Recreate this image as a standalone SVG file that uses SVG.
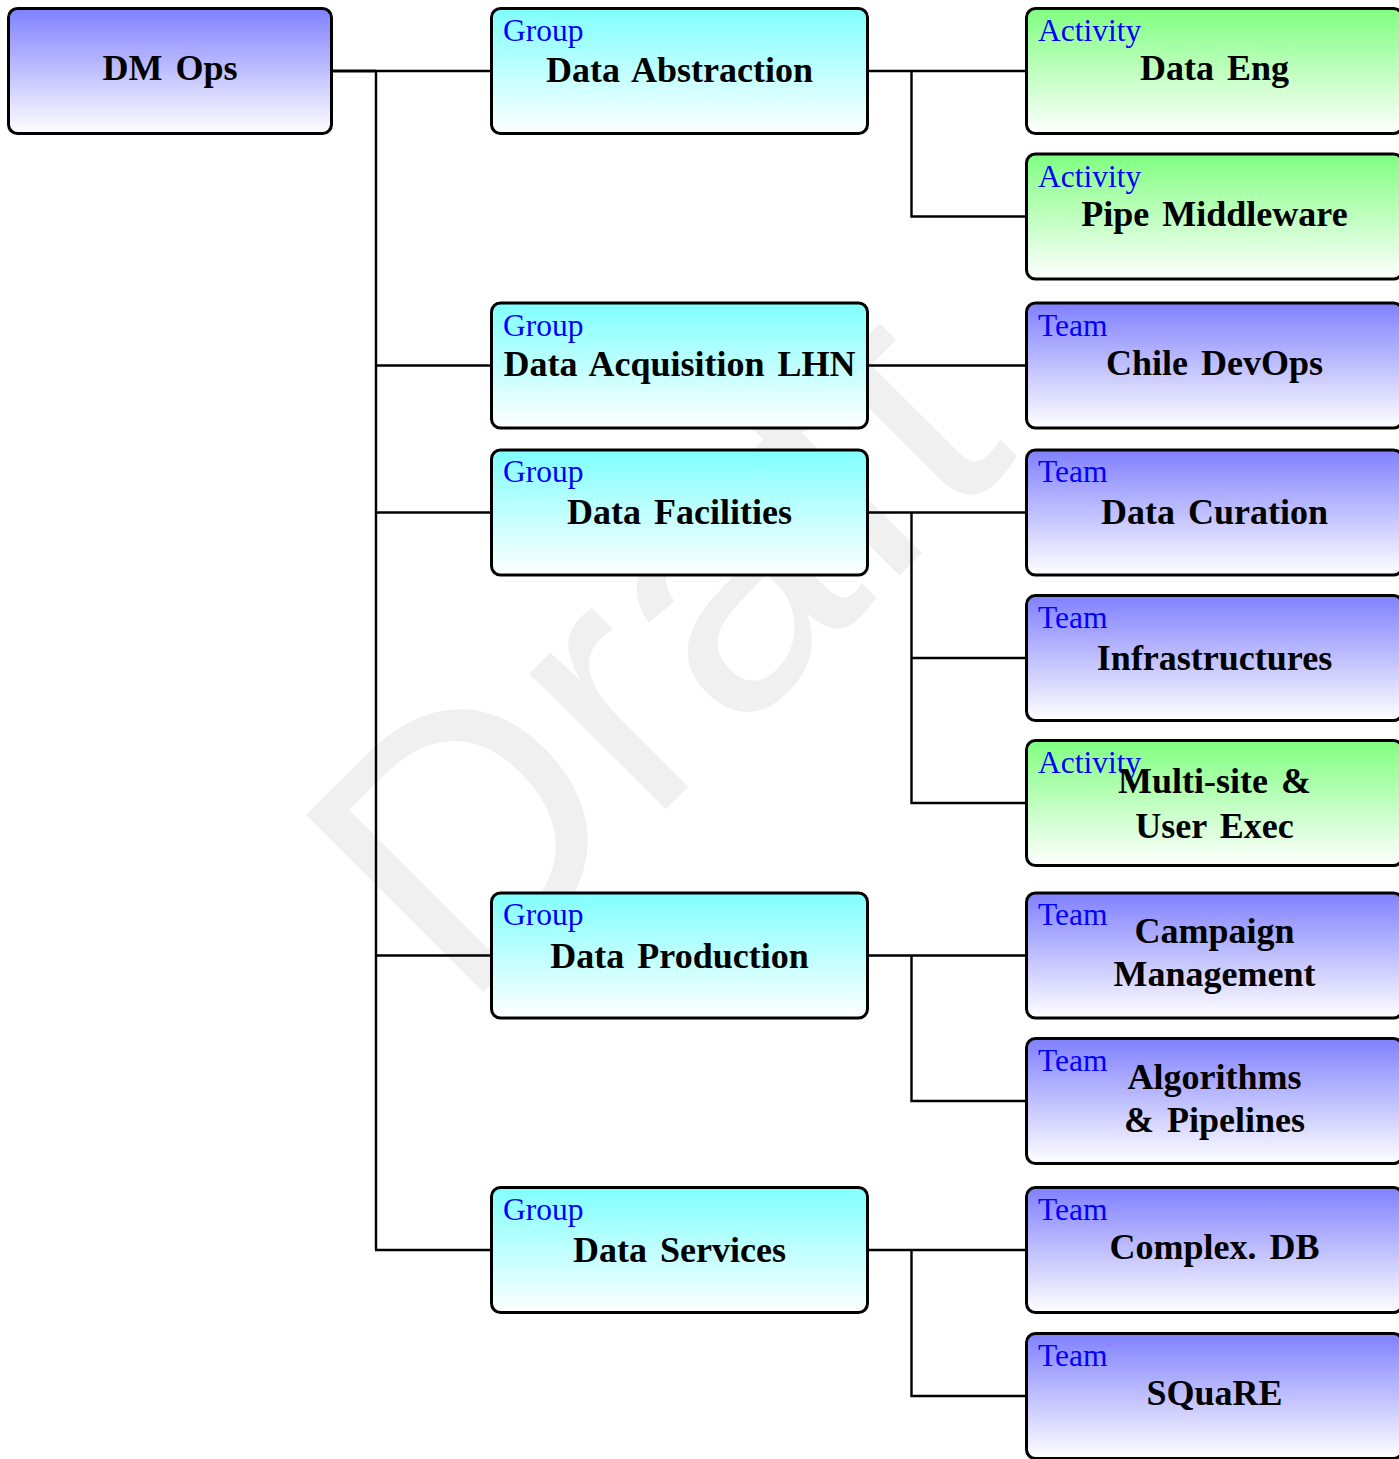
<svg xmlns="http://www.w3.org/2000/svg" width="1399" height="1459" viewBox="0 0 1399 1459">
<defs>
<linearGradient id="gBlue" x1="0" y1="0" x2="0" y2="1"><stop offset="0" stop-color="#8080ff"/><stop offset="1" stop-color="#ffffff"/></linearGradient>
<linearGradient id="gCyan" x1="0" y1="0" x2="0" y2="1"><stop offset="0" stop-color="#80ffff"/><stop offset="1" stop-color="#ffffff"/></linearGradient>
<linearGradient id="gGreen" x1="0" y1="0" x2="0" y2="1"><stop offset="0" stop-color="#80ff80"/><stop offset="1" stop-color="#ffffff"/></linearGradient>
<style>
.box{stroke:#000;stroke-width:3}
.team{fill:url(#gBlue)}
.grp{fill:url(#gCyan)}
.act{fill:url(#gGreen)}
.lbl{font-family:"Liberation Serif","Times New Roman",serif;font-size:31.5px;fill:#0000ff}
.main{font-family:"Liberation Serif","Times New Roman",serif;font-size:36px;font-weight:bold;fill:#000;text-anchor:middle;word-spacing:4px}
.wm{font-family:"Liberation Sans",Arial,sans-serif;font-size:364px;fill:#f0f0f0}
#connectors line, #connectors path{stroke:#000;stroke-width:2.4;fill:none}
</style>
</defs>
<rect width="1399" height="1459" fill="#ffffff"/>
<text class="wm" x="462" y="1013" transform="rotate(-45 462 1013)">Draft</text>
<g id="connectors">
<line x1="333" y1="71" x2="376" y2="71" style="stroke-width:3"/>
<line x1="376" y1="71" x2="490" y2="71"/>
<line x1="376" y1="70" x2="376" y2="1250"/>
<line x1="376" y1="365.5" x2="490" y2="365.5"/>
<line x1="376" y1="512.5" x2="490" y2="512.5"/>
<line x1="376" y1="955.5" x2="490" y2="955.5"/>
<line x1="375" y1="1250" x2="490" y2="1250"/>
<path d="M869 71 H1025 M911.5 71 V216.5 H1025"/>
<path d="M869 365.5 H1025"/>
<path d="M869 512.5 H1025 M911.5 512.5 V803 H1025 M911.5 658 H1025"/>
<path d="M869 955.5 H1025 M911.5 955.5 V1101 H1025"/>
<path d="M869 1250 H1025 M911.5 1250 V1396 H1025"/>
</g>
<g id="dm-ops">
<rect class="box team" x="8.5" y="8.5" width="323" height="125" rx="9"/>
<text class="main" x="170" y="80">DM Ops</text>
</g>
<g id="data-abstraction">
<rect class="box grp" x="491.5" y="8.5" width="376" height="125" rx="9"/>
<text class="lbl" x="503" y="41">Group</text>
<text class="main" x="679.5" y="82">Data Abstraction</text>
</g>
<g id="data-acquisition">
<rect class="box grp" x="491.5" y="303" width="376" height="125" rx="9"/>
<text class="lbl" x="503" y="335.5">Group</text>
<text class="main" x="679.5" y="376">Data Acquisition LHN</text>
</g>
<g id="data-facilities">
<rect class="box grp" x="491.5" y="450" width="376" height="125" rx="9"/>
<text class="lbl" x="503" y="482">Group</text>
<text class="main" x="679.5" y="524">Data Facilities</text>
</g>
<g id="data-production">
<rect class="box grp" x="491.5" y="893" width="376" height="125" rx="9"/>
<text class="lbl" x="503" y="925">Group</text>
<text class="main" x="679.5" y="968">Data Production</text>
</g>
<g id="data-services">
<rect class="box grp" x="491.5" y="1187.5" width="376" height="125" rx="9"/>
<text class="lbl" x="503" y="1219.5">Group</text>
<text class="main" x="679.5" y="1262">Data Services</text>
</g>
<g id="data-eng">
<rect class="box act" x="1026.5" y="8.5" width="376" height="125" rx="9"/>
<text class="lbl" x="1038" y="41">Activity</text>
<text class="main" x="1214.5" y="80">Data Eng</text>
</g>
<g id="pipe-middleware">
<rect class="box act" x="1026.5" y="154" width="376" height="125" rx="9"/>
<text class="lbl" x="1038" y="186.5">Activity</text>
<text class="main" x="1214.5" y="226">Pipe Middleware</text>
</g>
<g id="chile-devops">
<rect class="box team" x="1026.5" y="303" width="376" height="125" rx="9"/>
<text class="lbl" x="1038" y="335.5">Team</text>
<text class="main" x="1214.5" y="375">Chile DevOps</text>
</g>
<g id="data-curation">
<rect class="box team" x="1026.5" y="450" width="376" height="125" rx="9"/>
<text class="lbl" x="1038" y="482">Team</text>
<text class="main" x="1214.5" y="524">Data Curation</text>
</g>
<g id="infrastructures">
<rect class="box team" x="1026.5" y="595.5" width="376" height="125" rx="9"/>
<text class="lbl" x="1038" y="628">Team</text>
<text class="main" x="1214.5" y="670">Infrastructures</text>
</g>
<g id="multi-site">
<rect class="box act" x="1026.5" y="740.5" width="376" height="125" rx="9"/>
<text class="lbl" x="1038" y="773">Activity</text>
<text class="main" x="1214.5" y="793">Multi-site &amp;</text>
<text class="main" x="1214.5" y="838">User Exec</text>
</g>
<g id="campaign-management">
<rect class="box team" x="1026.5" y="893" width="376" height="125" rx="9"/>
<text class="lbl" x="1038" y="925">Team</text>
<text class="main" x="1214.5" y="943">Campaign</text>
<text class="main" x="1214.5" y="986">Management</text>
</g>
<g id="algorithms-pipelines">
<rect class="box team" x="1026.5" y="1038.5" width="376" height="125" rx="9"/>
<text class="lbl" x="1038" y="1071">Team</text>
<text class="main" x="1214.5" y="1089">Algorithms</text>
<text class="main" x="1214.5" y="1132">&amp; Pipelines</text>
</g>
<g id="complex-db">
<rect class="box team" x="1026.5" y="1187.5" width="376" height="125" rx="9"/>
<text class="lbl" x="1038" y="1219.5">Team</text>
<text class="main" x="1214.5" y="1259">Complex. DB</text>
</g>
<g id="square">
<rect class="box team" x="1026.5" y="1333.5" width="376" height="125" rx="9"/>
<text class="lbl" x="1038" y="1366">Team</text>
<text class="main" x="1214.5" y="1405">SQuaRE</text>
</g>
</svg>
